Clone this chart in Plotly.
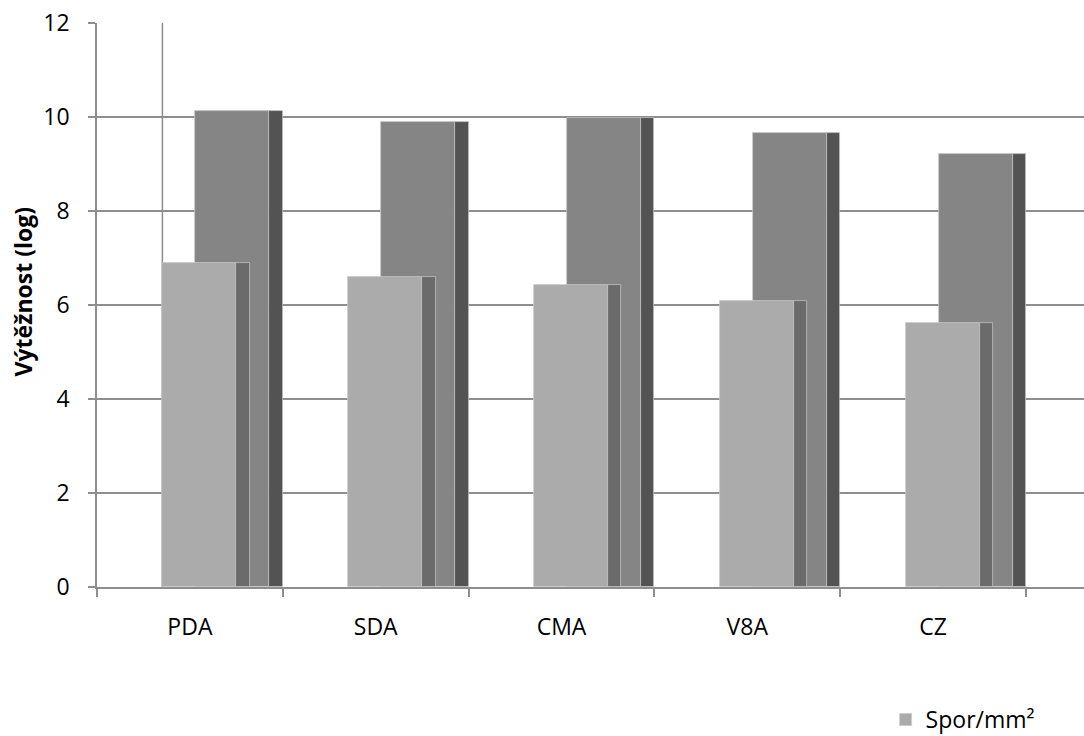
import plotly.graph_objects as go

categories = ["PDA", "SDA", "CMA", "V8A", "CZ"]
front_values = [6.90, 6.59, 6.43, 6.08, 5.62]
back_values = [10.12, 9.90, 9.97, 9.65, 9.22]
legend_name = "Spor/mm²"
y_title = "Výtěžnost (log)"
y_ticks = [0, 2, 4, 6, 8, 10, 12]

FONT = "Open Sans"
FACE_W = 0.398
SIDE_W = 0.072
FRONT_OFF = -0.148
BACK_OFF = 0.030
edge = dict(color="rgba(200,200,200,0.9)", width=0.8)

fig = go.Figure()
# back series (face + side)
fig.add_trace(go.Bar(x=categories, y=back_values, offset=BACK_OFF, width=FACE_W,
                     marker=dict(color="#858585", line=edge), showlegend=False, hoverinfo="skip"))
fig.add_trace(go.Bar(x=categories, y=back_values, offset=BACK_OFF + FACE_W, width=SIDE_W,
                     marker=dict(color="#535353", line=edge), showlegend=False, hoverinfo="skip"))
# front series (face + side)
fig.add_trace(go.Bar(x=categories, y=front_values, offset=FRONT_OFF, width=FACE_W,
                     marker=dict(color="#ababab", line=edge), name=legend_name, showlegend=True))
fig.add_trace(go.Bar(x=categories, y=front_values, offset=FRONT_OFF + FACE_W, width=SIDE_W,
                     marker=dict(color="#6b6b6b", line=edge), showlegend=False, hoverinfo="skip"))

# back wall left edge
fig.add_shape(type="line", xref="x", yref="y", x0=FRONT_OFF, x1=FRONT_OFF, y0=0, y1=12,
              line=dict(color="#8e8e8e", width=1.5), layer="below")

# y-axis title
fig.add_annotation(text="<b>" + y_title + "</b>", xref="paper", yref="paper",
                   x=-0.074, y=0.524, xanchor="center", yanchor="middle", textangle=-90,
                   showarrow=False, font=dict(family=FONT, size=23, color="black"))

fig.update_layout(
    barmode="overlay",
    width=1084, height=736,
    margin=dict(l=97, r=0, t=23, b=149, autoexpand=False),
    paper_bgcolor="white", plot_bgcolor="white",
    font=dict(family=FONT, size=23, color="black"),
    bargap=0,
    legend=dict(x=0.799, y=-0.235, xanchor="left", yanchor="middle",
                font=dict(family=FONT, size=23, color="black"), bgcolor="rgba(0,0,0,0)"),
    xaxis=dict(
        type="category", range=[-0.5, 4.812], showgrid=False,
        showline=True, linecolor="#8e8e8e", linewidth=1.5,
        ticks="outside", tickson="boundaries", ticklen=8, tickcolor="#8e8e8e", tickwidth=1.5,
        tickfont=dict(family=FONT, size=23, color="black"), ticklabelstandoff=19,
        automargin=False,
    ),
    yaxis=dict(
        range=[0, 12], tickvals=y_ticks, showgrid=True, gridcolor="#8e8e8e", gridwidth=1.5,
        zeroline=False, showline=True, linecolor="#8e8e8e", linewidth=1.5,
        ticks="outside", ticklen=7, tickcolor="#8e8e8e", tickwidth=1.5,
        tickfont=dict(family=FONT, size=23, color="black"), ticklabelstandoff=14,
        automargin=False,
    ),
)

fig.write_html("out.html")
